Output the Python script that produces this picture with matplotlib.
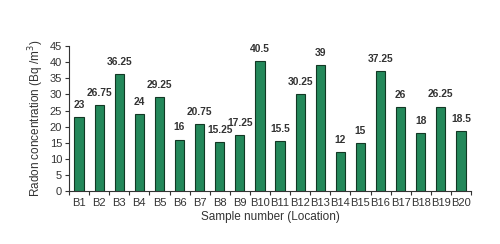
import numpy as np
import matplotlib
matplotlib.use('Agg')
import matplotlib.pyplot as plt
from matplotlib.ticker import FixedLocator

plt.rcParams['font.family'] = ['Liberation Sans', 'DejaVu Sans']

# サンプル地点と濃度
locations = ['B%d' % i for i in range(1, 21)]
radon = [23, 26.75, 36.25, 24, 29.25, 16, 20.75, 15.25, 17.25, 40.5,
         15.5, 30.25, 39, 12, 15, 37.25, 26, 18, 26.25, 18.5]
value_labels = ['23', '26.75', '36.25', '24', '29.25', '16', '20.75', '15.25',
                '17.25', '40.5', '15.5', '30.25', '39', '12', '15', '37.25',
                '26', '18', '26.25', '18.5']
yticks = [0, 5, 10, 15, 20, 25, 30, 35, 40, 45]

fig = plt.figure(figsize=(5.0, 2.44), dpi=100)
ax = fig.add_axes([0.138, 0.217, 0.804, 0.594])

x = np.arange(len(locations))
ax.bar(x, radon, width=0.46, color='#23885a', edgecolor='#123824', linewidth=0.8)

for xi, v, lab in zip(x, radon, value_labels):
    ax.text(xi, v + 2.2, lab, ha='center', va='bottom', fontsize=7.4,
            fontweight='bold', color='#333333')

ax.set_xlim(-0.5, len(locations) - 0.5)
ax.set_ylim(0, 45)
ax.set_yticks(yticks)
ax.set_xticks(x)
ax.set_xticklabels(locations)
ax.xaxis.set_minor_locator(FixedLocator(np.arange(-0.5, len(locations), 1.0)))
ax.tick_params(axis='x', which='major', length=0, labelsize=8, colors='#333333', pad=5)
ax.tick_params(axis='x', which='minor', length=3, width=0.8, color='#333333')
ax.tick_params(axis='y', length=3, width=0.8, labelsize=8, colors='#333333', pad=2)

for s in ['top', 'right']:
    ax.spines[s].set_visible(False)
for s in ['left', 'bottom']:
    ax.spines[s].set_linewidth(0.8)
    ax.spines[s].set_color('#333333')

ax.set_xlabel('Sample number (Location)', fontsize=8.5, color='#333333', labelpad=2)
ax.set_ylabel('Radon concentration (Bq /m$^3$)', fontsize=8.5, color='#333333', labelpad=3)

plt.savefig('out.png', dpi=100)
